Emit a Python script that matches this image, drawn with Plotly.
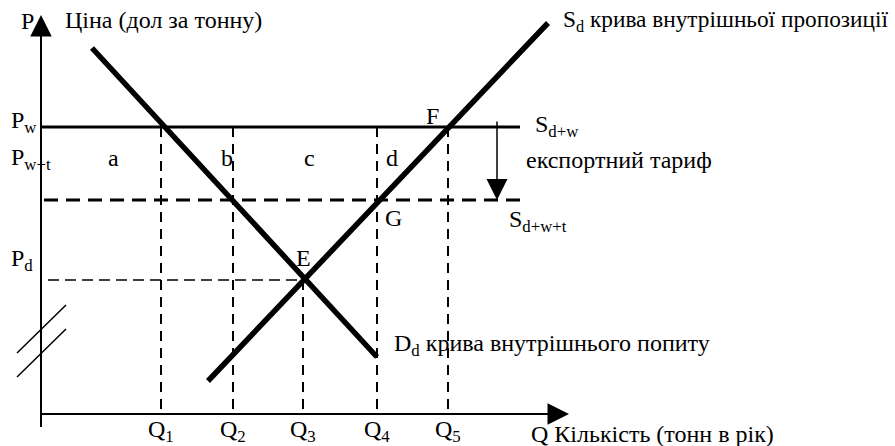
import plotly.graph_objects as go

# ---- data (diagram units: quantity along x, price along y) ----
Q_LABELS = ["Q<sub>1</sub>", "Q<sub>2</sub>", "Q<sub>3</sub>", "Q<sub>4</sub>", "Q<sub>5</sub>"]
Q_VALUES = [12.0, 19.2, 26.2, 33.6, 40.7]
P_W = 28.7     # world price
P_WT = 21.4    # world price with export tariff
P_D = 13.4     # domestic equilibrium price

DEMAND_Q = [5.1, 33.6]
DEMAND_P = [36.6, 5.7]
SUPPLY_Q = [16.7, 50.7]
SUPPLY_P = [3.3, 39.1]

PW_LINE_END = 47.9
PWT_LINE_END = 48.1
TARIFF_X = 45.6
TARIFF_TOP = 29.4

X_AXIS_END = 52.8
Y_AXIS_END = 39.9
Y_AXIS_START = -1.3

BREAK1_Q = [-2.4, 2.5]
BREAK1_P = [6.1, 10.9]
BREAK2_Q = [-2.4, 2.5]
BREAK2_P = [3.7, 8.5]

AREA_LABELS = ["a", "b", "c", "d"]
AREA_Q = [7.2, 18.6, 26.8, 35.1]

FONT = dict(family="Liberation Serif", size=24, color="black")

fig = go.Figure()

def line(xs, ys, width, dash="solid"):
    fig.add_trace(go.Scatter(x=xs, y=ys, mode="lines",
                             line=dict(color="black", width=width, dash=dash),
                             hoverinfo="skip", showlegend=False))

# vertical dashed guide lines
for q, top in zip(Q_VALUES, [P_W, P_W, P_D, P_W, P_W]):
    line([q, q], [top, 0], 2, "10px,7px")

# domestic price dashed line
line([0.7, Q_VALUES[2]], [P_D, P_D], 1.5, "11px,6px")
# world price with tariff (thick dashed)
line([0.3, PWT_LINE_END], [P_WT, P_WT], 3, "14px,8px")
# world price line
line([0, PW_LINE_END], [P_W, P_W], 3)

# demand and supply
line(DEMAND_Q, DEMAND_P, 5.5)
line(SUPPLY_Q, SUPPLY_P, 5.5)

# axes
line([0, 0], [Y_AXIS_START, Y_AXIS_END - 1.0], 2)
line([0, X_AXIS_END - 1.0], [0, 0], 2)
# axis break marks
line(BREAK1_Q, BREAK1_P, 1.5)
line(BREAK2_Q, BREAK2_P, 1.5)

annotations = []
# axis arrowheads
annotations.append(dict(x=0, y=Y_AXIS_END, ax=0, ay=Y_AXIS_END - 2.0,
                        xref="x", yref="y", axref="x", ayref="y",
                        showarrow=True, arrowhead=2, arrowsize=2.15, arrowwidth=2,
                        arrowcolor="black", text=""))
annotations.append(dict(x=X_AXIS_END, y=0, ax=X_AXIS_END - 2.0, ay=0,
                        xref="x", yref="y", axref="x", ayref="y",
                        showarrow=True, arrowhead=2, arrowsize=2.15, arrowwidth=2,
                        arrowcolor="black", text=""))
# export tariff arrow
annotations.append(dict(x=TARIFF_X, y=P_WT, ax=TARIFF_X, ay=TARIFF_TOP,
                        xref="x", yref="y", axref="x", ayref="y",
                        showarrow=True, arrowhead=2, arrowsize=2.8, arrowwidth=1.5,
                        arrowcolor="black", text=""))

def text(t, x, y, xanchor="left", yanchor="middle", size=24):
    annotations.append(dict(text=t, x=x, y=y, xref="x", yref="y", showarrow=False,
                            xanchor=xanchor, yanchor=yanchor,
                            font=dict(FONT, size=size)))

text("P", -1.4, 39.3, "center")
text("Ціна (дол за тонну)", 2.2, 39.4)
text("S<sub>d</sub> крива внутрішньої пропозиції", 52.0, 39.3, size=23.3)
text("P<sub>w</sub>", -3.2, 29.2)
text("P<sub>w+t</sub>", -3.2, 25.5)
for lab, q in zip(AREA_LABELS, AREA_Q):
    text(lab, q, 25.6, "center")
text("F", 39.1, 29.8, "center")
text("S<sub>d+w</sub>", 49.2, 28.8)
text("експортний тариф", 48.3, 25.4)
text("G", 34.2, 19.6)
text("S<sub>d+w+t</sub>", 46.6, 19.3)
text("P<sub>d</sub>", -3.2, 15.4)
text("E", 26.2, 15.6, "center")
text("D<sub>d</sub> крива внутрішнього попиту", 35.1, 6.9)
for lab, q in zip(Q_LABELS, Q_VALUES):
    text(lab, q, -1.7, "center")
text("Q Кількість (тонн в рік)", 48.8, -2.0)

fig.update_layout(
    width=895, height=446,
    margin=dict(l=0, r=0, t=0, b=0),
    paper_bgcolor="white", plot_bgcolor="white",
    xaxis=dict(range=[-4.1, 85.4], visible=False, fixedrange=True),
    yaxis=dict(range=[-3.2, 41.4], visible=False, fixedrange=True),
    annotations=annotations,
    showlegend=False,
)

fig.write_html("out.html", config={"displayModeBar": False},
               post_script="document.body.style.margin='0';document.body.style.overflow='hidden';")
